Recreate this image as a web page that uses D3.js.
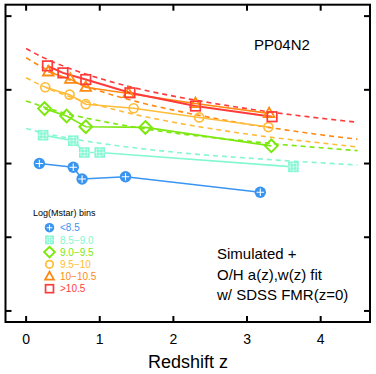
<!DOCTYPE html>
<html>
<head>
<meta charset="utf-8">
<script src="https://cdn.jsdelivr.net/npm/d3@7"></script>
<style>
  body { margin: 0; background: #fff; }
  svg { display: block; font-family: "Liberation Sans", Arial, sans-serif; }
</style>
</head>
<body>
<svg id="chart"></svg>
<script>
const width = 376;
const height = 374;

// bins of stellar mass, one per series
const binLabels = ["<8.5", "8.5\u22129.0", "9.0\u22129.5", "9.5\u221210", "10\u221210.5", ">10.5"];
const binColors = ["#3a95f0", "#84f7d2", "#7ce810", "#ffbc38", "#ff8a12", "#ff3a3a"];
const binSymbols = ["circlePlus", "boxed", "diamond", "circle", "triangle", "square"];

// simulated points: redshift and O/H
const zBlue   = [0.18, 0.64, 0.76, 1.35, 3.18];
const ohBlue  = [8.400, 8.390, 8.358, 8.364, 8.322];
const zCyan   = [0.23, 0.64, 0.79, 1.00, 3.63];
const ohCyan  = [8.477, 8.462, 8.430, 8.430, 8.391];
const zGreen  = [0.25, 0.55, 0.81, 1.62, 3.33];
const ohGreen = [8.549, 8.529, 8.500, 8.498, 8.448];
const zGold   = [0.26, 0.59, 0.81, 1.46, 2.35, 3.29];
const ohGold  = [8.607, 8.587, 8.561, 8.550, 8.525, 8.499];
const zOrange = [0.30, 0.60, 0.81, 1.39, 2.30, 3.30];
const ohOrange= [8.649, 8.629, 8.607, 8.590, 8.563, 8.536];
const zRed    = [0.29, 0.50, 0.81, 1.41, 2.30, 3.34];
const ohRed   = [8.665, 8.646, 8.628, 8.592, 8.556, 8.527];

const zFit = [0, 0.25, 0.5, 1, 1.5, 2, 2.5, 3, 3.5, 4, 4.5];
const fitCyan   = [8.495, 8.482, 8.472, 8.455, 8.442, 8.431, 8.422, 8.415, 8.408, 8.402, 8.396];
const fitGreen  = [8.570, 8.553, 8.538, 8.516, 8.498, 8.483, 8.471, 8.461, 8.451, 8.443, 8.435];
const fitGold   = [8.633, 8.608, 8.588, 8.557, 8.532, 8.512, 8.495, 8.480, 8.467, 8.456, 8.445];
const fitOrange = [8.687, 8.658, 8.634, 8.597, 8.568, 8.545, 8.525, 8.507, 8.492, 8.478, 8.466];
const fitRed    = [8.712, 8.686, 8.665, 8.631, 8.604, 8.583, 8.565, 8.549, 8.535, 8.523, 8.512];

const xTicks = [0, 1, 2, 3, 4];
const yTicks = [8.0, 8.2, 8.4, 8.6, 8.8];

const series = [
  {z: zBlue, oh: ohBlue, fit: null},
  {z: zCyan, oh: ohCyan, fit: fitCyan},
  {z: zGreen, oh: ohGreen, fit: fitGreen},
  {z: zGold, oh: ohGold, fit: fitGold},
  {z: zOrange, oh: ohOrange, fit: fitOrange},
  {z: zRed, oh: ohRed, fit: fitRed}
];

const plot = {left: 5.5, right: 370, top: 4.7, bottom: 322};

const x = d3.scaleLinear([-0.28, 4.67], [plot.left, plot.right]);
const y = d3.scaleLinear([7.970, 8.831], [plot.bottom, plot.top]);

const svg = d3.select("#chart")
    .attr("width", width)
    .attr("height", height)
    .attr("viewBox", [0, 0, width, height]);

const line = d3.line().x(d => x(d[0])).y(d => y(d[1]));
const fitLine = d3.line().x(d => x(d[0])).y(d => y(d[1])).curve(d3.curveMonotoneX);

// dashed fits
svg.append("g")
    .attr("fill", "none")
    .attr("stroke-width", 1.6)
    .attr("stroke-dasharray", "5,4")
    .selectAll("path")
    .data(series.map((s, i) => ({s, i})).filter(d => d.s.fit))
    .join("path")
    .attr("stroke", d => binColors[d.i])
    .attr("d", d => fitLine(zFit.map((z, k) => [z, d.s.fit[k]])));

// solid connecting lines
svg.append("g")
    .attr("fill", "none")
    .selectAll("path")
    .data(series)
    .join("path")
    .attr("stroke", (d, i) => binColors[i])
    .attr("stroke-width", (d, i) => i === 5 ? 2 : 1.6)
    .attr("d", d => line(d.z.map((z, k) => [z, d.oh[k]])));

function drawMarker(g, kind, color, s) {
  // s = half size in pixels
  if (kind === "circlePlus") {
    g.append("circle").attr("r", s * 1.08).attr("fill", color);
    g.append("path")
        .attr("d", `M${-s + 1.5},0H${s - 1.5}M0,${-s + 1.5}V${s - 1.5}`)
        .attr("stroke", "#fff").attr("stroke-width", 1.1);
  } else if (kind === "boxed") {
    g.append("rect").attr("x", -s).attr("y", -s).attr("width", 2 * s).attr("height", 2 * s).attr("fill", color);
    g.append("rect").attr("x", -s + 2).attr("y", -s + 2).attr("width", 2 * s - 4).attr("height", 2 * s - 4)
        .attr("fill", "none").attr("stroke", "#fff").attr("stroke-opacity", 0.6).attr("stroke-width", 0.8);
    g.append("path")
        .attr("d", `M${-s},0H${s}M0,${-s}V${s}`)
        .attr("stroke", "#fff").attr("stroke-opacity", 0.6).attr("stroke-width", 0.8);
  } else if (kind === "diamond") {
    g.append("path")
        .attr("d", `M0,${-s * 1.2}L${s * 1.2},0L0,${s * 1.2}L${-s * 1.2},0Z`)
        .attr("fill", "none").attr("stroke", color).attr("stroke-width", 2);
  } else if (kind === "circle") {
    g.append("circle").attr("r", s * 0.85).attr("fill", "none").attr("stroke", color).attr("stroke-width", 1.7);
  } else if (kind === "triangle") {
    g.append("path")
        .attr("d", `M0,${-s * 1.1}L${s},${s * 0.7}L${-s},${s * 0.7}Z`)
        .attr("fill", "none").attr("stroke", color).attr("stroke-width", 1.8);
  } else if (kind === "square") {
    g.append("rect").attr("x", -s * 0.9).attr("y", -s * 0.9).attr("width", s * 1.8).attr("height", s * 1.8)
        .attr("fill", "none").attr("stroke", color).attr("stroke-width", 1.7);
  }
}

// markers
series.forEach((d, i) => {
  const g = svg.append("g");
  d.z.forEach((z, k) => {
    const m = g.append("g").attr("transform", `translate(${x(z)},${y(d.oh[k])})`);
    drawMarker(m, binSymbols[i], binColors[i], 5.3);
  });
});

// frame and ticks on all four sides
svg.append("rect")
    .attr("x", plot.left).attr("y", plot.top)
    .attr("width", plot.right - plot.left).attr("height", plot.bottom - plot.top)
    .attr("fill", "none").attr("stroke", "#000").attr("stroke-width", 2);

const tickLen = 6;
const ticks = svg.append("g").attr("stroke", "#000").attr("stroke-width", 2);
xTicks.forEach(t => {
  ticks.append("line").attr("x1", x(t)).attr("x2", x(t)).attr("y1", plot.bottom).attr("y2", plot.bottom - tickLen);
  ticks.append("line").attr("x1", x(t)).attr("x2", x(t)).attr("y1", plot.top).attr("y2", plot.top + tickLen);
});
yTicks.forEach(t => {
  ticks.append("line").attr("y1", y(t)).attr("y2", y(t)).attr("x1", plot.left).attr("x2", plot.left + tickLen);
  ticks.append("line").attr("y1", y(t)).attr("y2", y(t)).attr("x1", plot.right).attr("x2", plot.right - tickLen);
});

svg.append("g")
    .attr("font-size", 14)
    .attr("text-anchor", "middle")
    .selectAll("text")
    .data(xTicks)
    .join("text")
    .attr("x", d => x(d))
    .attr("y", 344)
    .text(d => d);

svg.append("text")
    .attr("x", 188).attr("y", 368)
    .attr("text-anchor", "middle")
    .attr("font-size", 18)
    .text("Redshift z");

svg.append("text")
    .attr("x", 254).attr("y", 50)
    .attr("font-size", 15)
    .text("PP04N2");

const note = ["Simulated +", "O/H a(z),w(z) fit", "w/ SDSS FMR(z=0)"];
svg.append("g")
    .attr("font-size", 15)
    .selectAll("text")
    .data(note)
    .join("text")
    .attr("x", 217)
    .attr("y", (d, i) => 259 + i * 20.5)
    .text(d => d);

// legend
const legend = svg.append("g");
legend.append("text")
    .attr("x", 33).attr("y", 216)
    .attr("font-size", 9)
    .text("Log(Mstar) bins");
binLabels.forEach((lab, i) => {
  const yy = 227.7 + i * 12.2;
  const m = legend.append("g").attr("transform", `translate(49.5,${yy})`);
  drawMarker(m, binSymbols[i], binColors[i], 4.4);
  legend.append("text")
      .attr("x", 60).attr("y", yy + 3.6)
      .attr("font-size", 10)
      .attr("fill", binColors[i])
      .text(lab);
});
</script>
</body>
</html>
